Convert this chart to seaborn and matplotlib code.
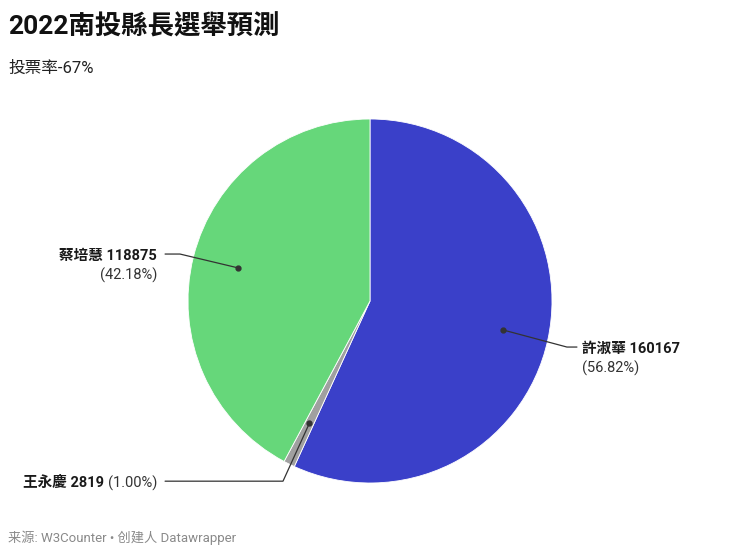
import numpy as np
import matplotlib
matplotlib.use("Agg")
import matplotlib.pyplot as plt
import seaborn as sns

# ---- data ----
candidates = ["許淑華", "王永慶", "蔡培慧"]
votes = [160167, 2819, 118875]
percents = ["56.82%", "1.00%", "42.18%"]
colors = ["#3a40c9", "#a0a0a0", "#66d77a"]

title = "2022南投縣長選舉預測"
subtitle = "投票率-67%"
footer = "来源: W3Counter • 创建人 Datawrapper"

sns.set_theme(style="white")
plt.rcParams["font.family"] = ["Roboto", "Noto Sans CJK TC", "DejaVu Sans"]

W, H = 740, 552
fig = plt.figure(figsize=(W / 100, H / 100), dpi=100)
fig.patch.set_facecolor("white")

cx, cy, R = 370, 301, 182
ax = fig.add_axes([(cx - R) / W, (H - cy - R) / H, 2 * R / W, 2 * R / H])
wedges, _ = ax.pie(votes, colors=colors, startangle=90, counterclock=False,
                   wedgeprops=dict(edgecolor="white", linewidth=0.6))
ax.set_xlim(-1, 1)
ax.set_ylim(-1, 1)
ax.set_aspect("equal")
ax.axis("off")

# label layout (elbow x, line-end x, label y, text x, alignment)
layout = [
    dict(ex=1.082, lx=1.137, ly=-0.253, tx=1.165, ha="left", inline=False),
    dict(ex=-0.478, lx=-1.126, ly=-0.99, tx=-1.17, ha="right", inline=True),
    dict(ex=-1.044, lx=-1.126, ly=0.258, tx=-1.17, ha="right", inline=False),
]

FS = 10.5
for w, name, v, p, L in zip(wedges, candidates, votes, percents, layout):
    ang = np.deg2rad((w.theta1 + w.theta2) / 2)
    dx, dy = 0.75 * np.cos(ang), 0.75 * np.sin(ang)
    ax.plot([dx], [dy], "o", color="#333333", ms=3.5, clip_on=False, zorder=5)
    ax.plot([dx, L["ex"], L["lx"]], [dy, L["ly"], L["ly"]], color="#333333",
            lw=0.9, clip_on=False, zorder=5)
    if L["inline"]:
        t = ax.annotate(f"({p})", (L["tx"], L["ly"] - 0.01), ha="right", va="center",
                        fontsize=FS, color="#333333", annotation_clip=False)
        ax.annotate(f"{name} {v} ", (0, 0.5), xycoords=t, ha="right", va="center",
                    fontsize=FS, fontweight="bold", color="#1a1a1a",
                    annotation_clip=False)
    else:
        ax.text(L["tx"], L["ly"] - 0.01, f"{name} {v}", ha=L["ha"], va="center",
                fontsize=FS, fontweight="bold", color="#1a1a1a", clip_on=False)
        ax.text(L["tx"], L["ly"] - 0.115, f"({p})", ha=L["ha"], va="center",
                fontsize=FS, color="#333333", clip_on=False)

fig.text(8 / W, 1 - 27 / H, title, fontsize=19, fontweight="bold",
         color="#111111", va="center", ha="left")
fig.text(8 / W, 1 - 68 / H, subtitle, fontsize=12, color="#222222",
         va="center", ha="left")
fig.text(8 / W, 1 - 538 / H, footer, fontsize=9.5, color="#8a8a8a",
         va="center", ha="left")

fig.savefig("out.png", dpi=100, facecolor="white")
